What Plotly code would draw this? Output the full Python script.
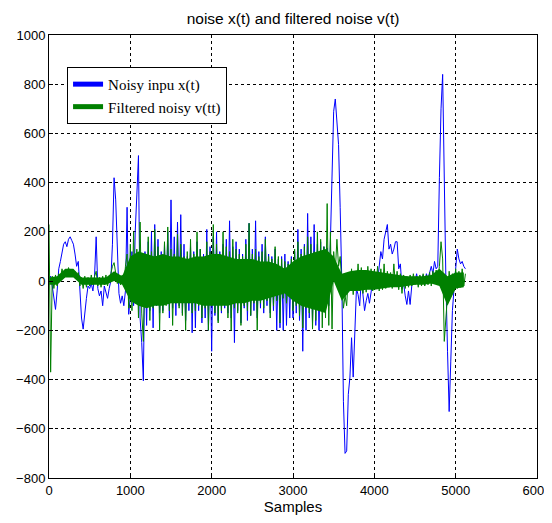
import numpy as np
import plotly.graph_objects as go

STEP = 20        # samples between stored signal values
BAND_STEP = 100  # samples between stored envelope values

# ---- Noisy input x(t) (every 20 samples) ----
noisy_pre = [10, 20, -20, -60, -115, -40, 50, 80, 120, 150,
             160, 140, 170, 180, 165, 150, 110, 60, 80, -50,
             -150, -195, -120, -70, -20, -30, -10, -40, 20, 180,
             -30, -60, -40, -100, -20, -50, -70, -30, 0, 150,
             420, 330, 100, -50, -90, -60, -100, -40, 300, -135]
noisy_mid = [-60, 120, -100, 200, 350, 510, -150, -250, -405, 120,
             -180, 160, -120, 200, -190, 230, -100, 170, -130, 120,
             -120, 150, -90, 200, -150, 330, -110, 180, -140, 240,
             -100, 270, -130, 150, -160, 100, -120, 140, -210, 120,
             -190, 160, -120, 130, -170, 110, -150, 210, -200, 140,
             -285, 180, -140, 200, -160, 120, -130, 150, -110, 170,
             -130, 245, -150, 140, -250, 160, -120, 130, -170, 110,
             -110, 170, -160, 235, -140, 130, -120, 245, -150, 120,
             -110, 150, -130, 180, -100, 110, -130, 100, -120, 130,
             -200, 90, -190, 100, -200, 110, -180, 80, -150, 100,
             -150, 120, -130, 210, -160, 130, -285, 150, -200, 275,
             -150, 180, -170, 230, -180, 150, -200, 160, -120, 140,
             -110, 135, -100, 150, 420]
noisy_post = [690, 740, 650, 555, 300, 0, -490, -700, -690, -460,
              -390, -230, -390, -205, -30, -55, -100, 10, -60, -120,
              -80, -50, -90, -40, 0, -30,
              10, 0, 60, 120, 90, 170, 200, 230, 130, 150,
              110, 130, 160, 160, 50, 70, -30, -10, -60, -95,
              -40, -95, -20, 10, 0, 30, -10, 20, 0, 25,
              -15, 30, 10, 40, 60, 30, 80, 50, 60, 420,
              700, 840, 350, 0, -285, -530, -325, -120, -30, 40,
              130, 90, 70, 80, 60, 50]

# ---- Filtered noisy v(t) (every 20 samples) ----
filt_pre = [230, -370, 20, -30, 25, -20, 30, 10, 50, 20,
            45, 25, 55, 30, 45, 20, 40, 10, 35, -20,
            15, -30, 20, -25, 15, -20, 25, -15, 20, 40,
            -20, 15, -25, 20, -15, 25, -20, 15, 30, 60,
            75, 30, -10, 20, -15, 25, -20, 60, 110, -110]
filt_mid = [150, -120, 200, -90, 130, -150, 240, -130, -245, 110,
            -100, 180, -160, 120, -110, 210, -90, 140, -200, 100,
            -130, 160, -100, 220, -120, 130, -180, 110, -90, 190,
            -110, 150, -140, 100, -200, 120, -90, 170, -130, 110,
            -120, 200, -100, 130, -150, 90, -110, 160, -200, 120,
            -100, 230, -130, 150, -170, 110, -120, 200, -90, 140,
            -150, 120, -200, 170, -110, 130, -130, 110, -180, 100,
            -100, 150, -120, 235, -140, 110, -90, 130, -200, 100,
            -90, 120, -110, 170, -80, 100, -150, 90, -100, 140,
            -80, 100, -170, 90, -70, 80, -90, 70, -60, 90,
            -120, 130, -100, 160, -140, 110, -190, 140, -110, 180,
            -130, 150, -195, 120, -160, 200, -120, 170, -190, 140,
            -150, 315, -180, 200, -195]
filt_post = [120, 40, 170, 60, 100, -20, -110, -60, -100, 30,
             -40, 50, -55, 40, -30, 70, -40, 55, -50, 40,
             -45, 60, -30, 50, -40, 45,
             -30, 60, -40, 50, -35, 70, -30, 40, -25, 35,
             -30, 70, -20, 40, -35, 30, -50, 25, -30, 20,
             -25, 25, -20, 30, -15, 20, -25, 25, -20, 30,
             -20, 25, -15, 35, -20, 40, -10, 45, 0, 60,
             160, 90, -245, -150, -40, 40, -30, 30, -40, 50,
             -30, 40, -25, 50, -20, 30]

# ---- dense core of the filtered noise (upper / lower envelope, every 100 samples) ----
filt_core_upper = [15, 20, 50, 50, 15, 15, 15, 15, 40, 20,
                   100, 120, 110, 100, 110, 100, 100, 90, 100, 100,
                   110, 110, 100, 90, 90, 90, 80, 80, 70, 50,
                   80, 100, 110, 120, 130,
                   100, 30, 40, 45, 45, 40, 35, 30, 25, 20,
                   20, 20, 25, 50, 20, 35, 35]
filt_core_lower = [-15, -15, 15, 15, -15, -15, -15, -15, 0, -15,
                   -80, -100, -110, -100, -100, -90, -90, -90, -90, -100,
                   -100, -100, -100, -90, -90, -80, -80, -70, -60, -50,
                   -80, -100, -110, -120, -130,
                   0, -80, -40, -40, -35, -35, -30, -25, -25, -20,
                   -15, -15, -10, -20, -100, -30, -25]

x_ticks = [0, 1000, 2000, 3000, 4000, 5000, 6000]
y_ticks = [-800, -600, -400, -200, 0, 200, 400, 600, 800, 1000]

BLUE = "#0000FF"
GREEN = "#008000"

noisy = np.array(noisy_pre + noisy_mid + noisy_post, dtype=float)
filt = np.array(filt_pre + filt_mid + filt_post, dtype=float)
xn = np.arange(len(noisy)) * STEP
xf = np.arange(len(filt)) * STEP
xb = np.arange(len(filt_core_upper)) * BAND_STEP

fig = go.Figure()
fig.add_trace(go.Scatter(x=xn, y=noisy, mode="lines", showlegend=False,
                         line=dict(color=BLUE, width=1)))
fig.add_trace(go.Scatter(x=xb, y=filt_core_lower, mode="lines", showlegend=False,
                         line=dict(color=GREEN, width=0)))
fig.add_trace(go.Scatter(x=xb, y=filt_core_upper, mode="lines", showlegend=False,
                         fill="tonexty", fillcolor=GREEN, line=dict(color=GREEN, width=0)))
fig.add_trace(go.Scatter(x=xf, y=filt, mode="lines", showlegend=False,
                         line=dict(color=GREEN, width=1)))
# legend entries with thick sample lines
fig.add_trace(go.Scatter(x=[None], y=[None], mode="lines", name="Noisy inpu x(t)",
                         line=dict(color=BLUE, width=5)))
fig.add_trace(go.Scatter(x=[None], y=[None], mode="lines", name="Filtered noisy v(tt)",
                         line=dict(color=GREEN, width=5)))

tick_font = dict(family="Liberation Sans, Arial", size=13, color="black")
axis_common = dict(showline=True, linecolor="black", linewidth=1, mirror=True,
                   showgrid=True, gridcolor="black", gridwidth=1, griddash="3px,3px",
                   zeroline=False, ticks="inside", ticklen=4, tickcolor="black",
                   automargin=False, ticklabeloverflow="allow", tickfont=tick_font)

# page body has an 8px margin, so the figure is drawn 8px in from the window edge
fig.update_layout(
    width=544, height=507,
    margin=dict(l=41, r=15, t=27, b=37),
    paper_bgcolor="white", plot_bgcolor="white",
    title=dict(text="noise x(t) and filtered noise v(t)", x=0.524, xanchor="center",
               xref="container", y=0.980, yref="container", yanchor="middle",
               font=dict(family="Liberation Sans, Arial", size=15.5, color="black")),
    xaxis=dict(range=[0, 6000], tickvals=x_ticks, **axis_common,
               title=dict(text="Samples", standoff=5,
                          font=dict(family="Liberation Sans, Arial", size=15, color="black"))),
    yaxis=dict(range=[-800, 1000], tickvals=y_ticks, **axis_common),
    legend=dict(x=0.037, y=0.928, xanchor="left", yanchor="top",
                bgcolor="white", bordercolor="black", borderwidth=1, traceorder="normal",
                font=dict(family="Liberation Serif, Times New Roman", size=15, color="black"),
                tracegroupgap=0, itemwidth=30),
    showlegend=True,
)

fig.write_html("out.html")
